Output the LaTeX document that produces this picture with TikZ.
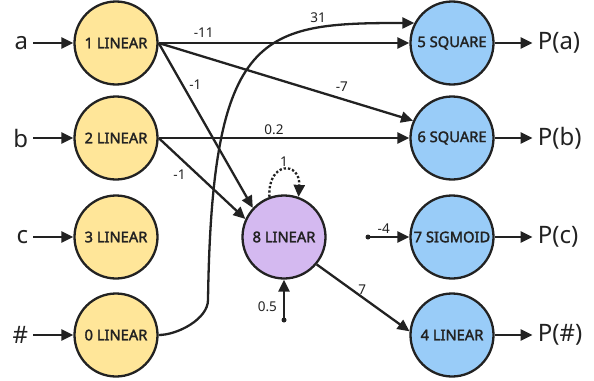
\documentclass[tikz,border=0pt]{standalone}
\usepackage{fontspec}
\setmainfont{Noto Sans}
\newfontfamily\unitfont{Noto Sans}[FakeBold=2]
\usetikzlibrary{arrows.meta}
\tikzset {>={Triangle[length=12pt,width=11pt]}}
\definecolor{ink}{HTML}{222222}
\definecolor{inyellow}{HTML}{FFE699}
\definecolor{outblue}{HTML}{99CCF8}
\definecolor{hidpurple}{HTML}{D4B9F0}

\begin{document}
\begin{tikzpicture}[x=1pt,y=-1pt,line width=2.3pt,color=ink,
  unit/.style={circle,draw=ink,minimum size=83pt,inner sep=0pt,
    font=\unitfont\fontsize{14.7}{16}\selectfont},
  io/.style={font=\fontsize{24}{27}\selectfont,inner xsep=4pt},
  wt/.style={font=\fontsize{13.5}{15}\selectfont,inner sep=2pt}]
\useasboundingbox (0,0) rectangle (594,380);

% units
\foreach \name/\x/\y/\col/\txt in {
  n1/116/43/inyellow/1 LINEAR, n2/116/138/inyellow/2 LINEAR,
  n3/116/237/inyellow/3 LINEAR, n0/116/335/inyellow/0 LINEAR,
  n5/452/43/outblue/5 SQUARE, n6/452/138/outblue/6 SQUARE,
  n7/452/237/outblue/7 SIGMOID, n4/452/335/outblue/4 LINEAR,
  n8/284/237/hidpurple/8 LINEAR}
  \node[unit,fill=\col] (\name) at (\x,\y) {\txt};

% inputs and outputs
\foreach \unit/\txt in {n1/a,n2/b,n3/c,n0/\#} {
  \node[io,anchor=east] (in-\unit) at ([xshift=-40pt]\unit.west) {\txt};
  \draw[->] (in-\unit) -- (\unit);
}
\foreach \unit/\txt in {n5/P(a),n6/P(b),n7/P(c),n4/P(\#)} {
  \node[io,anchor=west] (out-\unit) at ([xshift=38pt]\unit.east) {\txt};
  \draw[->] (\unit) -- (out-\unit);
}

% weights
\draw[->] (n1.east) -- node[wt,pos=0.18,above=2pt] {-11} (n5);
\draw[->] (n1.east) -- node[wt,pos=0.72,above=4pt] {-7} (n6.156);
\draw[->] (n1.east) -- node[wt,pos=0.25,right=4pt] {-1} (n8.137);
\draw[->] (n2.east) -- node[wt,pos=0.46,above] {0.2} (n6);
\draw[->] (n2.east) -- node[wt,pos=0.45,left=9pt] {-1} (n8.155);
\draw[->] (n8.-40) -- node[wt,pos=0.49,above] {7} (n4.175);

\coordinate (bend31) at (208,300);
\draw[->] (n0.east) to[out=0,in=-90,looseness=0.8] (bend31)
  .. controls +(4,-270) and +(-153,0) .. (n5.152)
  node[wt,pos=0.75,above=3pt] {31};

% self loop
\draw[->,dotted] (n8.110) .. controls +(-2,-36) and +(2,-36) .. (n8.70)
  node[wt,pos=0.5,above] {1};

% biases
\coordinate (b8) at (284,320);
\fill (b8) circle (2.5pt);
\draw[->] (b8) -- node[wt,pos=0.32,left=4pt] {0.5} (n8);
\coordinate (b7) at (368,237);
\fill (b7) circle (2.5pt);
\draw[->] (b7) -- node[wt,pos=0.38,above] {-4} (n7);
\end{tikzpicture}
\end{document}
